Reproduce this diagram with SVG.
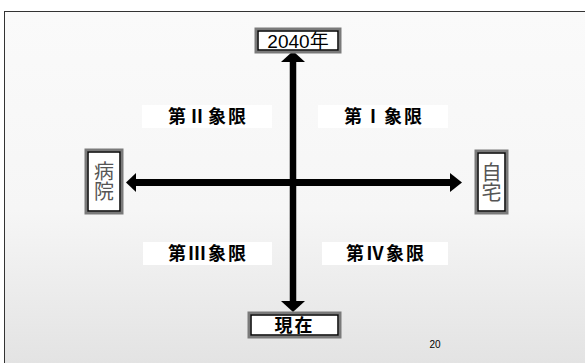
<svg xmlns="http://www.w3.org/2000/svg" width="585" height="363" viewBox="0 0 585 363">
<defs>
<linearGradient id="bg" x1="0" y1="0" x2="0" y2="1">
<stop offset="0" stop-color="#fafafa"/>
<stop offset="0.55" stop-color="#f6f6f6"/>
<stop offset="1" stop-color="#e2e2e2"/>
</linearGradient>
</defs>
<style>
.box{fill:#fff;stroke:#7a7a7a;stroke-width:3}
.boxin{fill:none;stroke:#000;stroke-width:1.5}
.lbl{font-family:"Liberation Sans","Noto Sans CJK JP",sans-serif;fill:#000}
.q{font-family:"Noto Sans CJK JP",sans-serif;font-weight:bold;font-size:18px;letter-spacing:2px;fill:#000;text-anchor:middle}
.qbg{fill:#fff}
.v{font-family:"Noto Sans CJK JP",sans-serif;font-size:20px;fill:#555;writing-mode:vertical-rl;text-anchor:middle}
</style>
<rect x="0" y="0" width="585" height="363" fill="#fff"/>
<rect x="4.5" y="11.5" width="590" height="360" fill="url(#bg)" stroke="#333" stroke-width="1"/>

<g id="quadrant-2"><rect class="qbg" x="142" y="105" width="130" height="23"/><text class="q" x="208" y="123">第Ⅱ象限</text></g>
<g id="quadrant-1"><rect class="qbg" x="318" y="105" width="130" height="23"/><text class="q" x="384" y="123">第Ⅰ象限</text></g>
<g id="quadrant-3"><rect class="qbg" x="143" y="242" width="129" height="23"/><text class="q" x="208" y="260">第Ⅲ象限</text></g>
<g id="quadrant-4"><rect class="qbg" x="322" y="242" width="126" height="23"/><text class="q" x="386" y="260">第Ⅳ象限</text></g>

<g id="connectors">
<path d="M293,308 L293,60" stroke="#000" stroke-width="6.5"/>
<path d="M281,62 L293,51 L305,62 Z" fill="#000"/>
<path d="M281,301 L293,312 L305,301 Z" fill="#000"/>
<path d="M134,182.5 L452,182.5" stroke="#000" stroke-width="7"/>
<path d="M136,173 L126,182.5 L136,192 Z" fill="#000"/>
<path d="M450,173 L462,182.5 L450,192 Z" fill="#000"/>
</g>

<g id="node-2040"><rect class="box" x="256" y="29" width="84" height="23"/><rect class="boxin" x="258" y="31" width="80" height="19"/><text class="lbl" x="298" y="48" font-size="19" text-anchor="middle">2040年</text></g>
<g id="node-hospital"><rect class="box" x="86" y="150" width="36" height="63"/><rect class="boxin" x="88" y="152" width="32" height="59"/><text class="v" x="104" y="181">病院</text></g>
<g id="node-home"><rect class="box" x="476" y="151" width="31" height="62"/><rect class="boxin" x="478" y="153" width="27" height="58"/><text class="v" x="491.5" y="182">自宅</text></g>
<g id="node-now"><rect class="box" x="249" y="313" width="91" height="24"/><rect class="boxin" x="251" y="315" width="87" height="20"/><text class="lbl" x="294.5" y="332" font-size="18" font-weight="bold" letter-spacing="2" text-anchor="middle" font-family="Noto Sans CJK JP,sans-serif">現在</text></g>

<text class="lbl" x="435" y="348" font-size="10" text-anchor="middle">20</text>
</svg>
